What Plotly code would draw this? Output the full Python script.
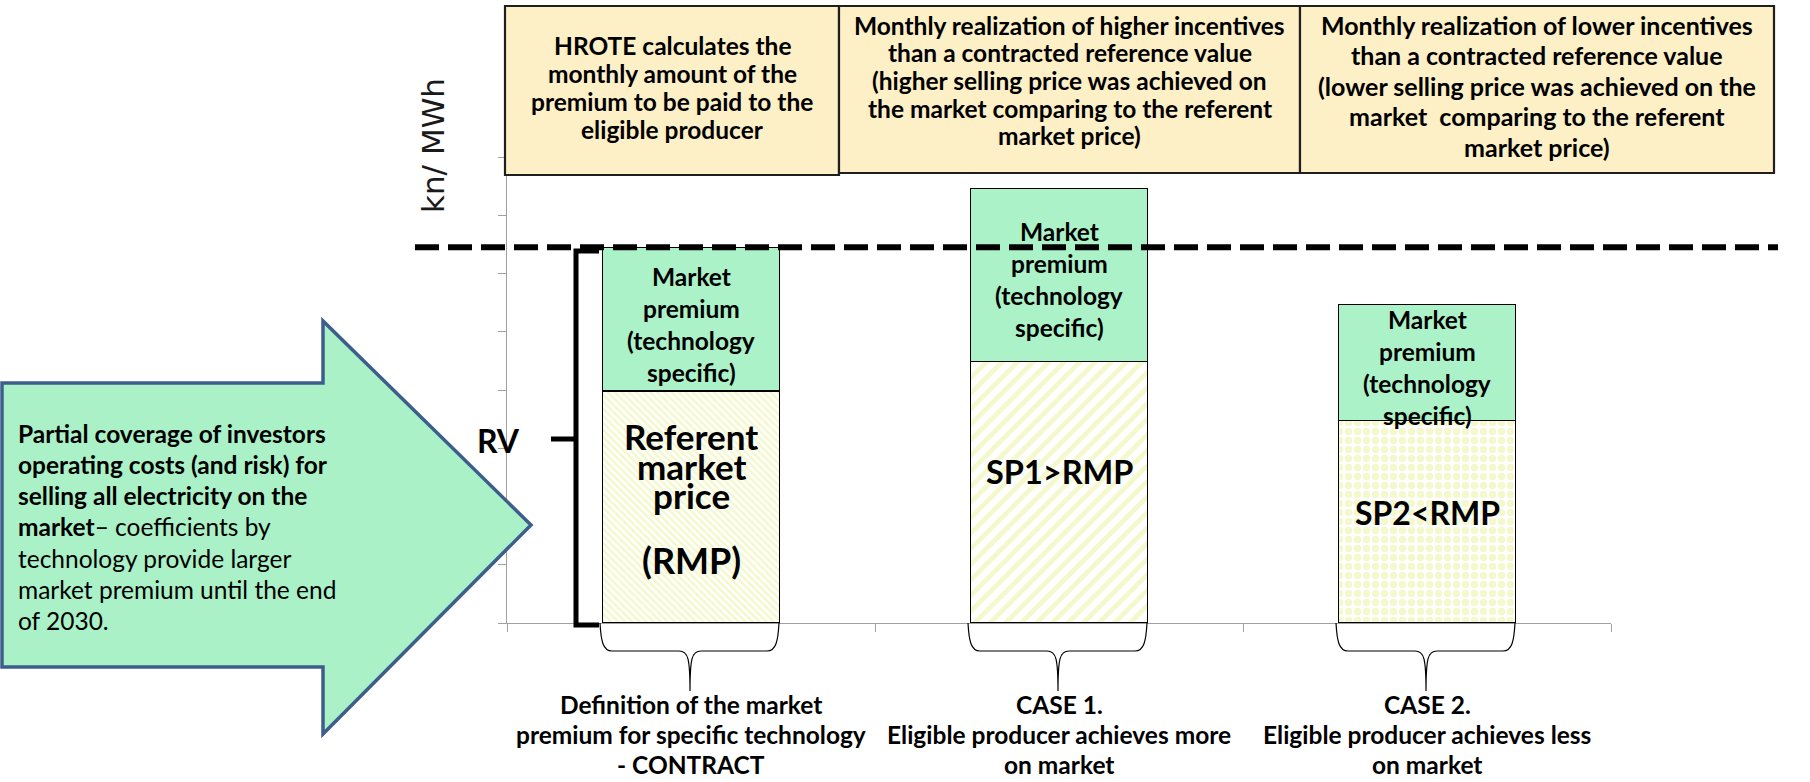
import plotly.graph_objects as go

# ---------------- data ----------------
categories = ["CONTRACT", "CASE 1", "CASE 2"]
category_label_lines = [
    ["Definition of the market", "premium for specific technology", "- CONTRACT"],
    ["CASE 1.", "Eligible producer achieves more", "on market"],
    ["CASE 2.", "Eligible producer achieves less", "on market"],
]
market_price = [3.98, 4.49, 3.48]          # lower (hatched) segment
market_premium = [2.47, 2.97, 1.99]        # upper (green) segment
premium_label_lines = ["Market", "premium", "(technology", "specific)"]
price_label_lines = [["Referent", "market", "price"], ["SP1>RMP"], ["SP2<RMP"]]
rmp_label = "(RMP)"
reference_value = market_price[0] + market_premium[0]
rv_label = "RV"
y_axis_title = "kn/ MWh"
header_lines = [
    ["HROTE calculates the", "monthly amount of the", "premium to be paid to the", "eligible producer"],
    ["Monthly realization of higher incentives", "than a contracted reference value",
     "(higher selling price was achieved on", "the market comparing to the referent", "market price)"],
    ["Monthly realization of lower incentives", "than a contracted reference value",
     "(lower selling price was achieved on the", "market  comparing to the referent", "market price)"],
]
arrow_lines = [
    "<b>Partial coverage of investors</b>",
    "<b>operating costs (and risk) for</b>",
    "<b>selling all electricity on the</b>",
    "<b>market</b>– coefficients by",
    "technology provide larger",
    "market premium until the end",
    "of 2030.",
]

# ---------------- geometry helpers ----------------
W, H = 1810, 782
PLOT_L, PLOT_R, PLOT_T, PLOT_B = 507, 1611, 157, 623   # pixel coords of the plot area
L, T, R, B = PLOT_L, PLOT_T, W - PLOT_R, H - PLOT_B
PW, PH = PLOT_R - PLOT_L, PLOT_B - PLOT_T
YMAX = 8.0


def PX(x):
    return (x - PLOT_L) / PW


def PY(y):
    return (PLOT_B - y) / PH


def val_to_px(v):
    return PLOT_B - v / YMAX * PH


def path(cmds):
    out = []
    for c in cmds:
        letter, pts = c[0], c[1:]
        out.append(letter + " " + " ".join(f"{PX(x):.5f},{PY(y):.5f}" for x, y in pts))
    return " ".join(out)


FONT = "Lato"
GREEN = "#ABF2C8"
YELLOW = "#E9F29A"
CREAM = "#FDEFC6"

fig = go.Figure()
fig.add_trace(go.Bar(
    x=categories, y=market_price,
    marker=dict(color="white", line=dict(color="black", width=1.5),
                pattern=dict(shape=["\\", "/", "."], size=[5, 11, 9],
                             solidity=[0.5, 0.45, 0.55], fgcolor=YELLOW, bgcolor="white")),
    hoverinfo="skip", showlegend=False,
))
fig.add_trace(go.Bar(
    x=categories, y=market_premium,
    marker=dict(color=GREEN, line=dict(color="black", width=1.5)),
    hoverinfo="skip", showlegend=False,
))

shapes = []
annotations = []


def add_lines(lines, x, y0, dy, size, bold=True, xanchor="center", xref="paper", color="black", family=FONT):
    for i, line in enumerate(lines):
        txt = f"<b>{line}</b>" if bold else line
        annotations.append(dict(
            x=x, y=PY(y0 + i * dy), xref=xref, yref="paper", text=txt, showarrow=False,
            xanchor=xanchor, yanchor="middle", font=dict(family=family, size=size, color=color),
        ))


# header boxes
boxes = [(505, 6, 839, 175), (839, 6, 1300, 173), (1300, 6, 1774, 173)]
header_first_y = [46, 25, 25]
header_dy = [27.7, 27.7, 30.4]
header_size = [24.5, 24.5, 25]
for (x0, y0, x1, y1), lines, fy, dy, fs in zip(boxes, header_lines, header_first_y, header_dy, header_size):
    shapes.append(dict(type="rect", xref="paper", yref="paper", x0=PX(x0), x1=PX(x1), y0=PY(y1), y1=PY(y0),
                       fillcolor=CREAM, line=dict(color="#1f1f1f", width=2.2), layer="above"))
    add_lines(lines, PX((x0 + x1) / 2), fy, dy, fs)

# big arrow
shapes.append(dict(type="path", xref="paper", yref="paper",
                   path=path([("M", (2, 383)), ("L", (323, 383)), ("L", (323, 321)), ("L", (531, 525)),
                              ("L", (323, 734)), ("L", (323, 667)), ("L", (2, 667))]) + " Z",
                   fillcolor="#AAF1C7", line=dict(color="#3D5E8D", width=3.5), layer="above"))
add_lines(arrow_lines, PX(16), 433, 31.3, 24.5, bold=False, xanchor="left")

# dashed reference line
shapes.append(dict(type="line", xref="paper", yref="y", x0=PX(415), x1=PX(1778),
                   y0=reference_value, y1=reference_value,
                   line=dict(color="black", width=6, dash="24px,9px"), layer="above"))

# RV bracket
shapes.append(dict(type="path", xref="paper", yref="paper",
                   path=path([("M", (599, 251)), ("L", (576, 251)), ("L", (576, 625)), ("L", (599, 625))]),
                   line=dict(color="black", width=5), layer="above"))
shapes.append(dict(type="line", xref="paper", yref="paper", x0=PX(551), x1=PX(576), y0=PY(439), y1=PY(439),
                   line=dict(color="black", width=5), layer="above"))
annotations.append(dict(x=PX(498), y=PY(440), xref="paper", yref="paper", text=f"<b>{rv_label}</b>",
                        showarrow=False, xanchor="center", yanchor="middle",
                        font=dict(family=FONT, size=32, color="black")))

# y axis title
annotations.append(dict(x=PX(433), y=PY(146), xref="paper", yref="paper", text=y_axis_title, textangle=-90,
                        showarrow=False, xanchor="center", yanchor="middle",
                        font=dict(family="DejaVu Sans", size=31, color="#1a1a1a")))

# per-category texts and braces
cat_w = PW / len(categories)
for i, cat in enumerate(categories):
    xc = PLOT_L + (i + 0.5) * cat_w
    xl, xr = xc - 91, xc + 88
    base = PLOT_B
    shapes.append(dict(type="path", xref="paper", yref="paper", line=dict(color="black", width=1.2),
                       path=path([("M", (xl, base)), ("C", (xl + 1, base + 18), (xl + 3, 651), (xl + 12, 651)),
                                  ("L", (xc - 12, 651)), ("C", (xc - 3, 651), (xc - 1, 658), (xc - 1, 691)),
                                  ("C", (xc - 1, 658), (xc + 1, 651), (xc + 10, 651)),
                                  ("L", (xr - 12, 651)), ("C", (xr - 3, 651), (xr - 1, base + 18), (xr, base))]),
                       layer="above"))
    add_lines(category_label_lines[i], cat, 704, 30, 24.5, xref="x")
    # premium label centred in green segment
    mid = val_to_px(market_price[i] + market_premium[i] / 2) + 5
    add_lines(premium_label_lines, cat, mid - 1.5 * 32, 32, 24.5, xref="x")

# lower segment labels
add_lines(price_label_lines[0], categories[0], 436, 29.5, 35, xref="x")
add_lines([rmp_label], categories[0], 560, 30, 36, xref="x")
add_lines(price_label_lines[1], categories[1], 471, 30, 32.5, xref="x")
add_lines(price_label_lines[2], categories[2], 512, 30, 32, xref="x")

fig.update_layout(
    width=W, height=H, autosize=False,
    margin=dict(l=L, r=R, t=T, b=B, pad=0),
    barmode="stack", bargap=0.52,
    plot_bgcolor="white", paper_bgcolor="white",
    shapes=shapes, annotations=annotations,
    xaxis=dict(type="category", range=[-0.5, 2.5], showticklabels=False, tickson="boundaries",
               ticks="outside", ticklen=8, tickcolor="#A0A0A0", showline=True, linecolor="#A0A0A0",
               linewidth=1, showgrid=False, zeroline=False, fixedrange=True),
    yaxis=dict(range=[0, YMAX], dtick=1, tick0=0, showticklabels=False, ticks="outside", ticklen=8,
               tickcolor="#A0A0A0", showline=True, linecolor="#A0A0A0", linewidth=1,
               showgrid=False, zeroline=False, fixedrange=True),
)

# remove the default 8px page margin so the 1810x782 figure fills the window exactly
fig.write_html("out.html", config={"displayModeBar": False, "staticPlot": True},
               post_script="document.body.style.margin='0';document.body.style.overflow='hidden';")
